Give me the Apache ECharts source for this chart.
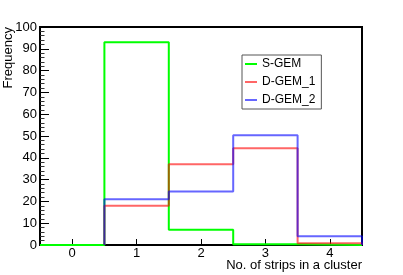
<!DOCTYPE html>
<html>
<head>
<meta charset="utf-8">
<script src="https://cdn.jsdelivr.net/npm/echarts@6/dist/echarts.min.js"></script>
<style>
html,body{margin:0;padding:0;background:#fff;}
#chart{width:403px;height:275px;}
</style>
</head>
<body>
<div id="chart"></div>
<script>
// Bin centres (number of strips in a cluster), bin width 1
var binCenters = [0, 1, 2, 3, 4];
var xTicks = [0, 1, 2, 3, 4];
// Frequencies per bin (null = bin not drawn)
var sGem   = [0, 93, 7, 0.4, 0];
var dGem1  = [null, 18, 37, 44.4, 0.8];
var dGem2  = [null, 21, 24.5, 50.4, 4];
var seriesNames = ['S-GEM', 'D-GEM_1', 'D-GEM_2'];

var FONT = 'Liberation Sans';

function histPath(vals) {
  var pts = [];
  var first = true, lastHi = null;
  for (var i = 0; i < binCenters.length; i++) {
    if (vals[i] === null) continue;
    var lo = binCenters[i] - 0.5, hi = binCenters[i] + 0.5;
    if (first) { pts.push([lo, 0]); first = false; }
    pts.push([lo, vals[i]]);
    pts.push([hi, vals[i]]);
    lastHi = hi;
  }
  pts.push([lastHi, 0]);
  return pts;
}

var colors = ['#00ff00', 'rgba(255,0,0,0.6)', 'rgba(0,0,255,0.6)'];
var datasets = [sGem, dGem1, dGem2];

var chart = echarts.init(document.getElementById('chart'), null, {renderer: 'canvas'});
chart.setOption({
  animation: false,
  backgroundColor: '#fff',
  grid: {left: 40, top: 27, right: 41, bottom: 30, show: true, borderColor: '#000', borderWidth: 2, backgroundColor: 'transparent'},
  xAxis: {
    type: 'value', min: -0.5, max: 4.5, interval: 0.5,
    axisLine: {show: true, onZero: false, lineStyle: {color: '#000', width: 2}},
    axisTick: {show: true, inside: true, length: 6, customValues: xTicks, lineStyle: {color: '#000', width: 1}},
    axisLabel: {show: true, customValues: xTicks, margin: 2, color: '#000', fontFamily: FONT, fontSize: 13},
    splitLine: {show: false}
  },
  yAxis: {
    type: 'value', min: 0, max: 100, interval: 10,
    axisLine: {show: true, onZero: false, lineStyle: {color: '#000', width: 2}},
    axisTick: {show: true, inside: true, length: 9, lineStyle: {color: '#000', width: 1}},
    minorTick: {show: true, splitNumber: 5, length: 4.5, lineStyle: {color: '#333', width: 1}},
    axisLabel: {margin: 3, color: '#000', fontFamily: FONT, fontSize: 13},
    splitLine: {show: false}
  },
  legend: {
    orient: 'vertical', left: 242, top: 55,
    data: seriesNames,
    backgroundColor: '#fff',
    borderColor: '#555', borderWidth: 1, borderRadius: 0,
    padding: [2, 6, 2, 3],
    itemWidth: 12, itemHeight: 2, itemGap: 4,
    icon: 'rect',
    textStyle: {color: '#000', fontFamily: FONT, fontSize: 12, lineHeight: 14, height: 14}
  },
  graphic: [
    {type: 'text', right: 41, top: 259, style: {text: 'No. of strips in a cluster', font: '13px "' + FONT + '"', fill: '#000'}},
    {type: 'text', x: 8, y: 27, rotation: Math.PI / 2, style: {text: 'Frequency', font: '13px "' + FONT + '"', fill: '#000', textAlign: 'right', textVerticalAlign: 'middle'}}
  ],
  series: datasets.map(function (d, i) {
    return {
      name: seriesNames[i], type: 'line', data: histPath(d),
      showSymbol: false, symbol: 'none', clip: false,
      color: colors[i],
      lineStyle: {color: colors[i], width: 2},
      itemStyle: {color: colors[i]},
      z: 3 + i
    };
  })
});
</script>
</body>
</html>
